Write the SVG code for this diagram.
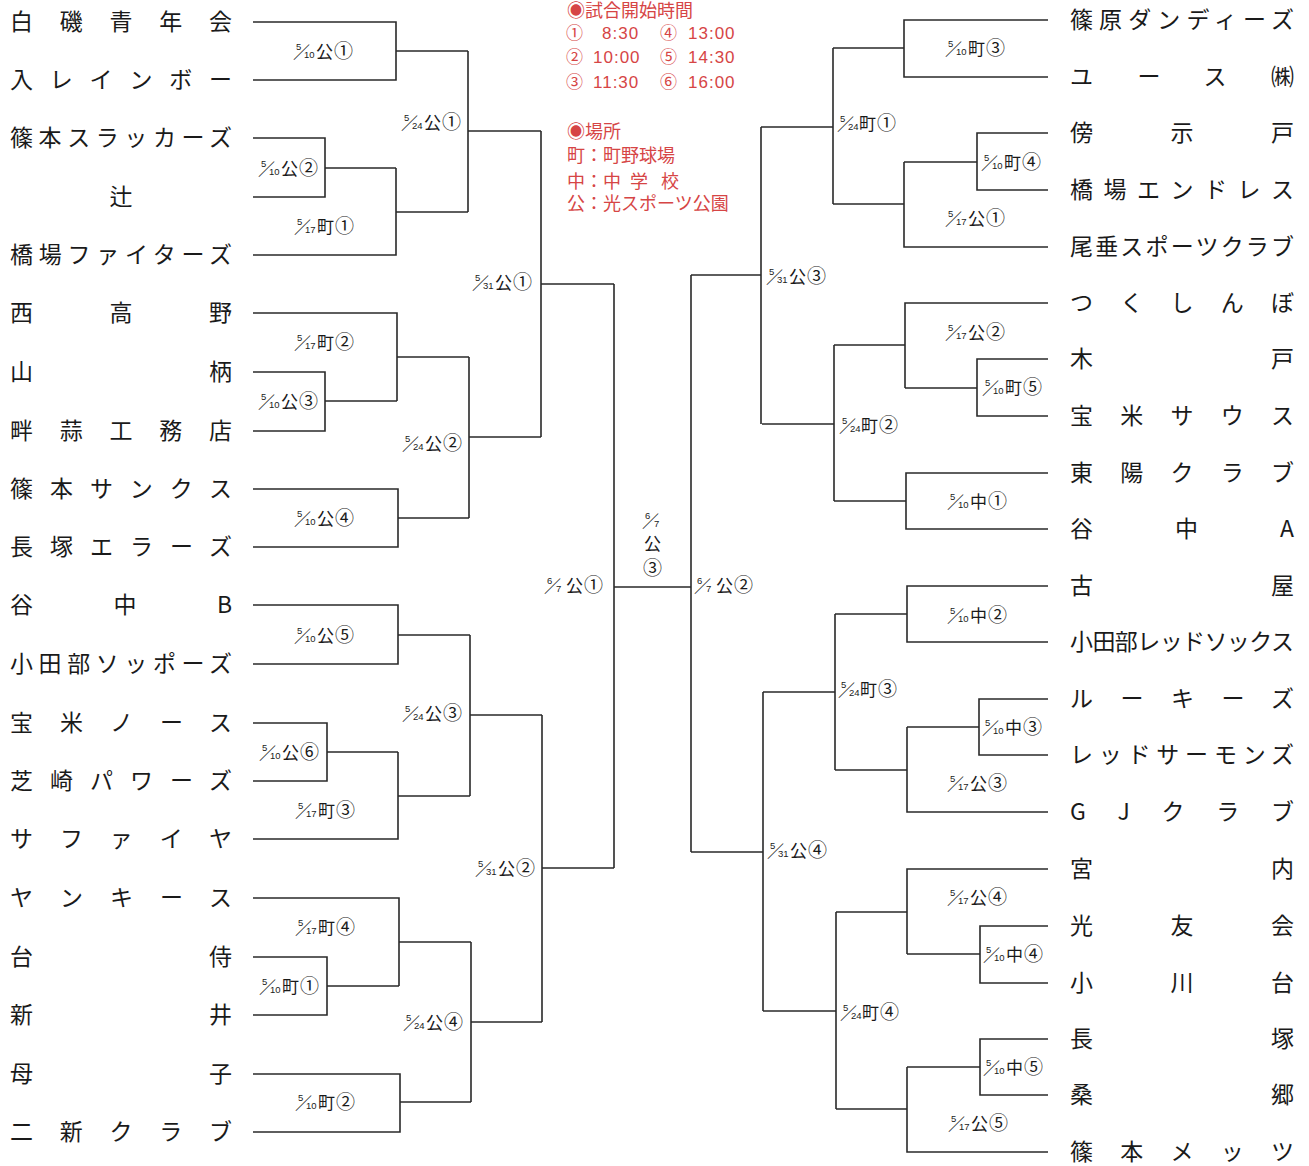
<svg xmlns="http://www.w3.org/2000/svg" xmlns:xlink="http://www.w3.org/1999/xlink" width="1309" height="1166" viewBox="0 0 1309 1166">
<style>
.bg{fill:#ffffff}
.nm{font-family:"Noto Sans CJK JP","Noto Sans",sans-serif;font-size:23px;fill:#1a1a1a}
.mt{font-family:"Noto Sans CJK JP","Noto Sans",sans-serif;font-size:17px;fill:#1a1a1a;letter-spacing:1px}
.cd{font-size:19px}
.fn{font-family:"Liberation Sans",sans-serif;font-size:9.5px;fill:#1a1a1a}
.fs{font-family:"Noto Sans CJK JP",sans-serif;font-size:17px;fill:#1a1a1a}
.rd{font-family:"Noto Sans CJK JP","Noto Sans",sans-serif;font-size:18px;fill:#d64545}
.rc{font-family:"Noto Sans CJK JP",sans-serif;font-size:17px;fill:#d64545}
.rt{font-family:"Liberation Sans",sans-serif;font-size:17px;fill:#d64545;letter-spacing:1px}
.ln{fill:none;stroke:#2a2a2a;stroke-width:1.6}
</style>
<defs>
<g id="f510"><text class="fn" x="0" y="-8">5</text><text class="fs" x="-3" y="1">／</text><text class="fn" x="8" y="0">10</text></g>
<g id="f517"><text class="fn" x="0" y="-8">5</text><text class="fs" x="-3" y="1">／</text><text class="fn" x="8" y="0">17</text></g>
<g id="f524"><text class="fn" x="0" y="-8">5</text><text class="fs" x="-3" y="1">／</text><text class="fn" x="8" y="0">24</text></g>
<g id="f531"><text class="fn" x="0" y="-8">5</text><text class="fs" x="-3" y="1">／</text><text class="fn" x="8" y="0">31</text></g>
<g id="f67"><text class="fn" x="0" y="-8">6</text><text class="fs" x="-3" y="1">／</text><text class="fn" x="9" y="0">7</text></g>
</defs>
<rect class="bg" x="0" y="0" width="1309" height="1166"/>

<g id="legend">
<text class="rd" x="567" y="17">◉試合開始時間</text>
<text class="rc" x="566" y="39">①</text><text class="rt" x="602" y="39">8:30</text><text class="rc" x="660" y="39">④</text><text class="rt" x="688" y="39">13:00</text>
<text class="rc" x="566" y="63">②</text><text class="rt" x="593" y="63">10:00</text><text class="rc" x="660" y="63">⑤</text><text class="rt" x="688" y="63">14:30</text>
<text class="rc" x="566" y="88">③</text><text class="rt" x="593" y="88">11:30</text><text class="rc" x="660" y="88">⑥</text><text class="rt" x="688" y="88">16:00</text>
<text class="rd" x="567" y="138">◉場所</text>
<text class="rd" x="567" y="162">町：町野球場</text>
<text class="rd" y="188"><tspan x="567">中：中</tspan><tspan x="630">学</tspan><tspan x="661">校</tspan></text>
<text class="rd" x="567" y="210">公：光スポーツ公園</text>
</g>

<g id="connectors">
<path class="ln" d="M253,22H396V80H253M396,51H468"/>
<path class="ln" d="M253,138H325V197H253M325,168H396"/>
<path class="ln" d="M253,255H396V168M396,212H468"/>
<path class="ln" d="M468,51V212M468,131H541"/>
<path class="ln" d="M253,313H397V401M253,372H325V431H253M325,401H397M397,357H469"/>
<path class="ln" d="M253,489H398V547H253M398,518H469"/>
<path class="ln" d="M469,357V518M469,437H541"/>
<path class="ln" d="M541,131V437M541,284H614"/>
<path class="ln" d="M253,605H398V664H253M398,635H470"/>
<path class="ln" d="M253,723H327V781H253M327,752H398"/>
<path class="ln" d="M253,839H398V752M398,796H470"/>
<path class="ln" d="M470,635V796M470,715H542"/>
<path class="ln" d="M253,898H399V986M253,957H327V1015H253M327,986H399M399,942H471"/>
<path class="ln" d="M253,1074H400V1132H253M400,1102H471"/>
<path class="ln" d="M471,942V1102M471,1022H542"/>
<path class="ln" d="M542,715V1022M542,868H614"/>
<path class="ln" d="M614,284V868M614,587H691M691,275V852"/>
<path class="ln" d="M1048,20H904V77H1048M904,48H833"/>
<path class="ln" d="M1048,133H977V190H1048M977,162H904"/>
<path class="ln" d="M1048,247H904V162M904,204H833"/>
<path class="ln" d="M833,48V204M833,127H761"/>
<path class="ln" d="M1048,303H905V388M1048,359H977V416H1048M977,388H905M905,345H834"/>
<path class="ln" d="M1048,473H906V529H1048M906,501H834"/>
<path class="ln" d="M834,345V501M834,424H762"/>
<path class="ln" d="M761,127V424M761,275H691"/>
<path class="ln" d="M1048,586H907V642H1048M907,614H835"/>
<path class="ln" d="M1048,699H979V755H1048M979,727H907"/>
<path class="ln" d="M1048,812H907V727M907,770H835"/>
<path class="ln" d="M835,614V770M835,692H763"/>
<path class="ln" d="M1048,869H907V954M1048,926H980V983H1048M980,954H907M907,912H836"/>
<path class="ln" d="M1048,1039H980V1095H1048M980,1067H907"/>
<path class="ln" d="M1048,1152H907V1067M907,1109H836"/>
<path class="ln" d="M836,912V1109M836,1011H763"/>
<path class="ln" d="M763,692V1011M763,852H691"/>
</g>

<g id="teams-left">
<g id="tL01"><text class="nm" x="10" y="30" textLength="222" lengthAdjust="spacing">白磯青年会</text></g>
<g id="tL02"><text class="nm" x="10" y="88" textLength="222" lengthAdjust="spacing">入レインボー</text></g>
<g id="tL03"><text class="nm" x="10" y="146" textLength="222" lengthAdjust="spacing">篠本スラッカーズ</text></g>
<g id="tL04"><text class="nm" x="121" y="205" text-anchor="middle">辻</text></g>
<g id="tL05"><text class="nm" x="10" y="263" textLength="222" lengthAdjust="spacing">橋場ファイターズ</text></g>
<g id="tL06"><text class="nm" x="10" y="321" textLength="222" lengthAdjust="spacing">西高野</text></g>
<g id="tL07"><text class="nm" x="10" y="380" textLength="222" lengthAdjust="spacing">山柄</text></g>
<g id="tL08"><text class="nm" x="10" y="439" textLength="222" lengthAdjust="spacing">畔蒜工務店</text></g>
<g id="tL09"><text class="nm" x="10" y="497" textLength="222" lengthAdjust="spacing">篠本サンクス</text></g>
<g id="tL10"><text class="nm" x="10" y="555" textLength="222" lengthAdjust="spacing">長塚エラーズ</text></g>
<g id="tL11"><text class="nm" x="10" y="613" textLength="222" lengthAdjust="spacing">谷中B</text></g>
<g id="tL12"><text class="nm" x="10" y="672" textLength="222" lengthAdjust="spacing">小田部ソッポーズ</text></g>
<g id="tL13"><text class="nm" x="10" y="731" textLength="222" lengthAdjust="spacing">宝米ノース</text></g>
<g id="tL14"><text class="nm" x="10" y="789" textLength="222" lengthAdjust="spacing">芝崎パワーズ</text></g>
<g id="tL15"><text class="nm" x="10" y="847" textLength="222" lengthAdjust="spacing">サファイヤ</text></g>
<g id="tL16"><text class="nm" x="10" y="906" textLength="222" lengthAdjust="spacing">ヤンキース</text></g>
<g id="tL17"><text class="nm" x="10" y="965" textLength="222" lengthAdjust="spacing">台侍</text></g>
<g id="tL18"><text class="nm" x="10" y="1023" textLength="222" lengthAdjust="spacing">新井</text></g>
<g id="tL19"><text class="nm" x="10" y="1082" textLength="222" lengthAdjust="spacing">母子</text></g>
<g id="tL20"><text class="nm" x="10" y="1140" textLength="222" lengthAdjust="spacing">二新クラブ</text></g>
</g>

<g id="teams-right">
<g id="tR01"><text class="nm" x="1070" y="28" textLength="224" lengthAdjust="spacing">篠原ダンディーズ</text></g>
<g id="tR02"><text class="nm" x="1070" y="85" textLength="224" lengthAdjust="spacing">ユース㈱</text></g>
<g id="tR03"><text class="nm" x="1070" y="141" textLength="224" lengthAdjust="spacing">傍示戸</text></g>
<g id="tR04"><text class="nm" x="1070" y="198" textLength="224" lengthAdjust="spacing">橋場エンドレス</text></g>
<g id="tR05"><text class="nm" x="1070" y="255" textLength="224" lengthAdjust="spacing">尾垂スポーツクラブ</text></g>
<g id="tR06"><text class="nm" x="1070" y="311" textLength="224" lengthAdjust="spacing">つくしんぼ</text></g>
<g id="tR07"><text class="nm" x="1070" y="367" textLength="224" lengthAdjust="spacing">木戸</text></g>
<g id="tR08"><text class="nm" x="1070" y="424" textLength="224" lengthAdjust="spacing">宝米サウス</text></g>
<g id="tR09"><text class="nm" x="1070" y="481" textLength="224" lengthAdjust="spacing">東陽クラブ</text></g>
<g id="tR10"><text class="nm" x="1070" y="537" textLength="224" lengthAdjust="spacing">谷中A</text></g>
<g id="tR11"><text class="nm" x="1070" y="594" textLength="224" lengthAdjust="spacing">古屋</text></g>
<g id="tR12"><text class="nm" x="1070" y="650" textLength="224" lengthAdjust="spacing">小田部レッドソックス</text></g>
<g id="tR13"><text class="nm" x="1070" y="707" textLength="224" lengthAdjust="spacing">ルーキーズ</text></g>
<g id="tR14"><text class="nm" x="1070" y="763" textLength="224" lengthAdjust="spacing">レッドサーモンズ</text></g>
<g id="tR15"><text class="nm" x="1070" y="820" textLength="224" lengthAdjust="spacing">GJクラブ</text></g>
<g id="tR16"><text class="nm" x="1070" y="877" textLength="224" lengthAdjust="spacing">宮内</text></g>
<g id="tR17"><text class="nm" x="1070" y="934" textLength="224" lengthAdjust="spacing">光友会</text></g>
<g id="tR18"><text class="nm" x="1070" y="991" textLength="224" lengthAdjust="spacing">小川台</text></g>
<g id="tR19"><text class="nm" x="1070" y="1047" textLength="224" lengthAdjust="spacing">長塚</text></g>
<g id="tR20"><text class="nm" x="1070" y="1103" textLength="224" lengthAdjust="spacing">桑郷</text></g>
<g id="tR21"><text class="nm" x="1070" y="1160" textLength="224" lengthAdjust="spacing">篠本メッツ</text></g>
</g>

<g id="matches">
<g id="mL01" transform="translate(296,58)"><use href="#f510"/><text class="mt" x="20">公<tspan class="cd">①</tspan></text></g>
<g id="mL02" transform="translate(261,175)"><use href="#f510"/><text class="mt" x="20">公<tspan class="cd">②</tspan></text></g>
<g id="mL03" transform="translate(297,233)"><use href="#f517"/><text class="mt" x="20">町<tspan class="cd">①</tspan></text></g>
<g id="mL04" transform="translate(404,129)"><use href="#f524"/><text class="mt" x="20">公<tspan class="cd">①</tspan></text></g>
<g id="mL05" transform="translate(475,289)"><use href="#f531"/><text class="mt" x="20">公<tspan class="cd">①</tspan></text></g>
<g id="mL06" transform="translate(297,349)"><use href="#f517"/><text class="mt" x="20">町<tspan class="cd">②</tspan></text></g>
<g id="mL07" transform="translate(261,408)"><use href="#f510"/><text class="mt" x="20">公<tspan class="cd">③</tspan></text></g>
<g id="mL08" transform="translate(405,450)"><use href="#f524"/><text class="mt" x="20">公<tspan class="cd">②</tspan></text></g>
<g id="mL09" transform="translate(297,525)"><use href="#f510"/><text class="mt" x="20">公<tspan class="cd">④</tspan></text></g>
<g id="mL10" transform="translate(297,642)"><use href="#f510"/><text class="mt" x="20">公<tspan class="cd">⑤</tspan></text></g>
<g id="mL11" transform="translate(405,720)"><use href="#f524"/><text class="mt" x="20">公<tspan class="cd">③</tspan></text></g>
<g id="mL12" transform="translate(262,759)"><use href="#f510"/><text class="mt" x="20">公<tspan class="cd">⑥</tspan></text></g>
<g id="mL13" transform="translate(298,817)"><use href="#f517"/><text class="mt" x="20">町<tspan class="cd">③</tspan></text></g>
<g id="mL14" transform="translate(478,875)"><use href="#f531"/><text class="mt" x="20">公<tspan class="cd">②</tspan></text></g>
<g id="mL15" transform="translate(298,934)"><use href="#f517"/><text class="mt" x="20">町<tspan class="cd">④</tspan></text></g>
<g id="mL16" transform="translate(262,993)"><use href="#f510"/><text class="mt" x="20">町<tspan class="cd">①</tspan></text></g>
<g id="mL17" transform="translate(406,1029)"><use href="#f524"/><text class="mt" x="20">公<tspan class="cd">④</tspan></text></g>
<g id="mL18" transform="translate(298,1109)"><use href="#f510"/><text class="mt" x="20">町<tspan class="cd">②</tspan></text></g>
<g id="mC01" transform="translate(547,592)"><use href="#f67"/><text class="mt" x="19">公<tspan class="cd">①</tspan></text></g>
<g id="mC02" transform="translate(697,592)"><use href="#f67"/><text class="mt" x="19">公<tspan class="cd">②</tspan></text></g>
<g id="mC03"><use href="#f67" transform="translate(645,527)"/><text class="mt" x="644" y="550" letter-spacing="0">公</text><text class="mt cd" x="643" y="575" letter-spacing="0">③</text></g>
<g id="mR01" transform="translate(948,55)"><use href="#f510"/><text class="mt" x="20">町<tspan class="cd">③</tspan></text></g>
<g id="mR02" transform="translate(840,130)"><use href="#f524"/><text class="mt" x="19">町<tspan class="cd">①</tspan></text></g>
<g id="mR03" transform="translate(984,169)"><use href="#f510"/><text class="mt" x="20">町<tspan class="cd">④</tspan></text></g>
<g id="mR04" transform="translate(948,225)"><use href="#f517"/><text class="mt" x="20">公<tspan class="cd">①</tspan></text></g>
<g id="mR05" transform="translate(769,283)"><use href="#f531"/><text class="mt" x="20">公<tspan class="cd">③</tspan></text></g>
<g id="mR06" transform="translate(948,339)"><use href="#f517"/><text class="mt" x="20">公<tspan class="cd">②</tspan></text></g>
<g id="mR07" transform="translate(985,394)"><use href="#f510"/><text class="mt" x="20">町<tspan class="cd">⑤</tspan></text></g>
<g id="mR08" transform="translate(842,432)"><use href="#f524"/><text class="mt" x="19">町<tspan class="cd">②</tspan></text></g>
<g id="mR09" transform="translate(950,508)"><use href="#f510"/><text class="mt" x="20">中<tspan class="cd">①</tspan></text></g>
<g id="mR10" transform="translate(950,622)"><use href="#f510"/><text class="mt" x="20">中<tspan class="cd">②</tspan></text></g>
<g id="mR11" transform="translate(841,696)"><use href="#f524"/><text class="mt" x="19">町<tspan class="cd">③</tspan></text></g>
<g id="mR12" transform="translate(985,734)"><use href="#f510"/><text class="mt" x="20">中<tspan class="cd">③</tspan></text></g>
<g id="mR13" transform="translate(950,790)"><use href="#f517"/><text class="mt" x="20">公<tspan class="cd">③</tspan></text></g>
<g id="mR14" transform="translate(770,857)"><use href="#f531"/><text class="mt" x="20">公<tspan class="cd">④</tspan></text></g>
<g id="mR15" transform="translate(950,904)"><use href="#f517"/><text class="mt" x="20">公<tspan class="cd">④</tspan></text></g>
<g id="mR16" transform="translate(986,961)"><use href="#f510"/><text class="mt" x="20">中<tspan class="cd">④</tspan></text></g>
<g id="mR17" transform="translate(843,1019)"><use href="#f524"/><text class="mt" x="19">町<tspan class="cd">④</tspan></text></g>
<g id="mR18" transform="translate(986,1074)"><use href="#f510"/><text class="mt" x="20">中<tspan class="cd">⑤</tspan></text></g>
<g id="mR19" transform="translate(951,1130)"><use href="#f517"/><text class="mt" x="20">公<tspan class="cd">⑤</tspan></text></g>
</g>
</svg>
